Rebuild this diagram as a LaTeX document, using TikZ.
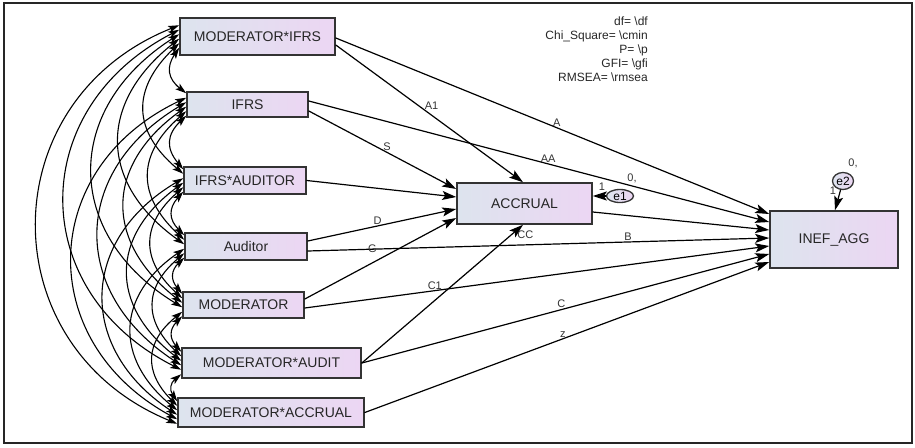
\documentclass[tikz,border=0pt]{standalone}
\usepackage{fontspec}
\setmainfont{Liberation Sans}
\usepackage{tikz}
\usetikzlibrary{arrows.meta,shapes.geometric}
\usepackage{xcolor}
\definecolor{boxl}{RGB}{221,228,238}
\definecolor{boxr}{RGB}{236,214,243}

\begin{document}
\begin{tikzpicture}[x=1pt,y=-1pt,line cap=round,
  >={Stealth[length=14pt,width=9pt,inset=3pt]},
  var/.style={draw=black!80,line width=1.6pt,left color=boxl,right color=boxr,text=black!85,font=\fontsize{14}{16}\selectfont,inner sep=0pt},
  err/.style={ellipse,draw=black!80,line width=1.3pt,left color=boxl,right color=boxr,inner sep=0pt,font=\fontsize{12}{14}\selectfont},
  reg/.style={->,line width=1.2pt},
  cov/.style={{Stealth[length=11pt,width=7pt,inset=2.5pt]}-{Stealth[length=11pt,width=7pt,inset=2.5pt]},line width=1.1pt},
  lbl/.style={font=\fontsize{11}{13}\selectfont,text=black!80,inner sep=1pt}]
\useasboundingbox (0,0) rectangle (915,447);
\draw[line width=2pt,black!85] (4,3) rectangle (912,443);
% observed variables
\node[var,minimum width=155pt,minimum height=37pt] (mi) at (257.5,36.5) {MODERATOR*IFRS};
\node[var,minimum width=121pt,minimum height=25pt] (ifrs) at (247.5,104.5) {IFRS};
\node[var,minimum width=122pt,minimum height=27pt] (ia) at (245,180.5) {IFRS*AUDITOR};
\node[var,minimum width=122pt,minimum height=27pt] (aud) at (246,246.5) {Auditor};
\node[var,minimum width=121pt,minimum height=26pt] (mod) at (243.5,305) {MODERATOR};
\node[var,minimum width=179pt,minimum height=30pt] (ma) at (271.5,363) {MODERATOR*AUDIT};
\node[var,minimum width=186pt,minimum height=29pt] (mac) at (271,412.5) {MODERATOR*ACCRUAL};
\node[var,minimum width=135pt,minimum height=41pt] (acc) at (524.5,203.5) {ACCRUAL};
\node[var,minimum width=128pt,minimum height=57pt] (inef) at (834,239.5) {INEF\_AGG};
% error terms
\node[err,minimum width=27pt,minimum height=13pt] (e1) at (620,196) {e1};
\node[err,minimum width=21pt,minimum height=17pt] (e2) at (843,181) {e2};
\node[lbl] (e1w) at (602,187) {1};
\node[lbl] (e1v) at (632,178) {0,};
\node[lbl] (e2w) at (833,191) {1};
\node[lbl] (e2v) at (853,163) {0,};
% fit indices
\node[font=\fontsize{12}{14}\selectfont,align=right,anchor=north east,inner sep=0pt,text=black!85] (fit) at (648,17)
  {df= \textbackslash df\\Chi\_Square= \textbackslash cmin\\P= \textbackslash p\\GFI= \textbackslash gfi\\RMSEA= \textbackslash rmsea};
% covariances
\foreach \a/\i in {mi/0,ifrs/1,ia/2,aud/3,mod/4,ma/5,mac/6}{
  \foreach \b/\j in {mi/0,ifrs/1,ia/2,aud/3,mod/4,ma/5,mac/6}{
    \ifnum\j>\i
      \pgfmathsetmacro\sa{(\j-\i-3.5)*4.5}
      \pgfmathsetmacro\sb{(3.5-\j+\i)*4.5}
      \pgfmathsetmacro\bnd{38+5*(\j-\i)}
      \draw[cov] ([yshift=\sa pt]\a.west) to[bend right=\bnd,looseness=1.3] ([yshift=\sb pt]\b.west);
    \fi
  }
}
% paths to ACCRUAL
\draw[reg] ([yshift=-8.5pt]mi.east) -- ([xshift=-1.5pt]acc.north) node[lbl,pos=.44,right=5pt]{A1};
\draw[reg] ([yshift=-6.5pt]ifrs.east) -- ([yshift=14.5pt]acc.west) node[lbl,pos=.53,above]{S};
\draw[reg] (ia.east) -- ([yshift=6.5pt]acc.west);
\draw[reg] ([yshift=5.5pt]aud.east) -- ([yshift=-5.5pt]acc.west) node[lbl,pos=.47,above]{D};
\draw[reg] ([yshift=6pt]mod.east) -- ([yshift=-14.5pt]acc.west);
\draw[reg] (ma.east) -- ([xshift=-1.5pt]acc.south) node[lbl,pos=.93,right=4pt]{CC};
\draw[reg] (e1) -- ([yshift=7.5pt]acc.east);
% paths to INEF_AGG
\draw[reg] ([yshift=-1.5pt]mi.east) -- ([yshift=25.5pt]inef.west) node[lbl,pos=.51,above]{A};
\draw[reg] ([yshift=3.5pt]ifrs.east) -- ([yshift=17.5pt]inef.west) node[lbl,pos=.52,above]{AA};
\draw[reg] ([yshift=-8.5pt]acc.east) -- ([yshift=9.5pt]inef.west) node[lbl,pos=.2,below=16pt]{B};
\draw[reg] ([yshift=-4.5pt]aud.east) -- ([yshift=1.5pt]inef.west) node[lbl,pos=.14]{G};
\draw[reg] ([yshift=-3pt]mod.east) -- ([yshift=-6.5pt]inef.west) node[lbl,pos=.28,above=-1pt]{C1};
\draw[reg] (ma.east) -- ([yshift=-14.5pt]inef.west) node[lbl,pos=.49,above]{C};
\draw[reg] (mac.east) -- ([yshift=-22.5pt]inef.west) node[lbl,pos=.49,above]{z};
\draw[reg] (e2) -- ([xshift=1pt]inef.north);
\end{tikzpicture}
\end{document}
